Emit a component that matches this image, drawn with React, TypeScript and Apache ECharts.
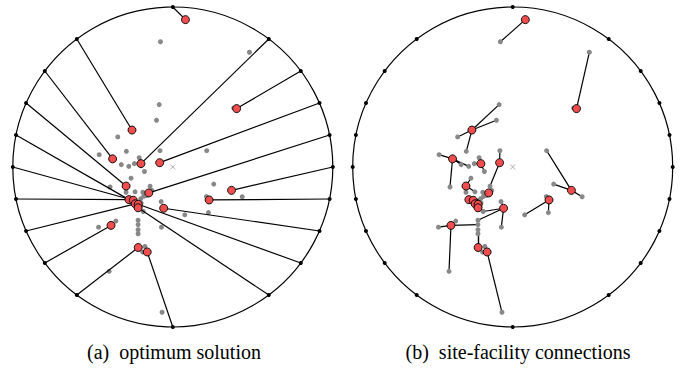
import React, { useEffect, useRef } from "react";
import * as echarts from "echarts";

// Boundary (customer) points on the unit circle
const boundaryX = [0, 0.6, 0.8, 0.917, 0.98, 1, 0.98, 0.917, 0.8, 0.6, 0, -0.6, -0.8, -0.917, -0.98, -1, -0.98, -0.917, -0.8, -0.6];
const boundaryY = [1, 0.8, 0.6, 0.4, 0.2, 0, -0.2, -0.4, -0.6, -0.8, -1, -0.8, -0.6, -0.4, -0.2, 0, 0.2, 0.4, 0.6, 0.8];
// facility index serving each boundary point (panel a)
const boundaryFac = [0, 4, 1, 5, 7, 8, 9, 10, 17, 18, 13, 12, 11, 16, 14, 15, 14, 6, 3, 2];

// Open facilities (red)
const facX = [0.079, 0.399, -0.255, -0.376, -0.199, -0.082, -0.292, -0.15, 0.367, 0.227, -0.057, -0.386, -0.216, -0.16, -0.274, -0.247, -0.235, -0.216, -0.217];
const facY = [0.921, 0.365, 0.231, 0.051, 0.021, 0.027, -0.119, -0.162, -0.146, -0.206, -0.258, -0.365, -0.503, -0.531, -0.204, -0.208, -0.23, -0.233, -0.255];

// Sites (gray)
const siteX = [-0.077, 0.479, 0.381, -0.085, -0.102, -0.344, -0.29, -0.46, -0.392, -0.322, -0.275, -0.21, -0.24, -0.177, -0.08, -0.142, -0.261, -0.292, -0.236, -0.187, -0.131, 0.212, 0.256, 0.434, 0.075, 0.223, 0.21, -0.073, -0.071, -0.185, -0.217, -0.464, -0.356, -0.217, -0.398, -0.217, -0.217, -0.174, -0.188, -0.067, -0.2, -0.182, -0.198, -0.204, -0.165];
const siteY = [0.783, 0.717, 0.369, 0.39, 0.292, 0.188, 0.098, 0.077, -0.125, 0.015, 0.004, 0.058, 0.021, -0.028, 0.102, -0.12, -0.07, -0.158, -0.155, -0.158, -0.146, 0.102, -0.107, -0.186, -0.299, -0.285, -0.185, -0.216, -0.376, -0.278, -0.333, -0.376, -0.338, -0.36, -0.652, -0.392, -0.417, -0.497, -0.532, -0.908, -0.198, -0.183, -0.225, -0.25, -0.178];
// facility each site is connected to (panel b)
const siteFac = [0, 1, 1, 2, 2, 2, 2, 3, 3, 3, 3, 4, 4, 4, 5, 5, 6, 6, 6, 7, 7, 8, 8, 8, 9, 9, 9, 10, 10, 10, 10, 11, 11, 11, 11, 12, 12, 13, 13, 13, 15, 17, 17, 18, 16];

const captions = ["(a)\u00a0 optimum solution", "(b)\u00a0 site-facility connections"];
const centerPt = [[0, 0]];

export default function App() {
  const ref = useRef<HTMLDivElement>(null);
  useEffect(() => {
    if (!ref.current) return;
    const chart = echarts.init(ref.current, null, { renderer: "svg" });
    const boundary = boundaryX.map((x, i) => [x, boundaryY[i]]);
    const facs = facX.map((x, i) => [x, facY[i]]);
    const sites = siteX.map((x, i) => [x, siteY[i]]);
    const linesA = boundary.map((b, i) => ({ coords: [b, facs[boundaryFac[i]]] }));
    const linesB = sites.map((s, i) => ({ coords: [s, facs[siteFac[i]]] }));

    const series: any[] = [];
    [0, 1].forEach((g) => {
      series.push({
        type: "custom",
        xAxisIndex: g,
        yAxisIndex: g,
        silent: true,
        z: 1,
        data: centerPt,
        renderItem: (_p: any, api: any) => {
          const c = api.coord([0, 0]);
          const e = api.coord([1, 0]);
          return {
            type: "circle",
            shape: { cx: c[0], cy: c[1], r: e[0] - c[0] },
            style: { fill: "none", stroke: "#000", lineWidth: 1.2 },
          };
        },
      });
      series.push({
        type: "lines",
        coordinateSystem: "cartesian2d",
        xAxisIndex: g,
        yAxisIndex: g,
        silent: true,
        z: g === 0 ? 3 : 2,
        data: g === 0 ? linesA : linesB,
        lineStyle: { color: "#000", width: 1.2, opacity: 1 },
      });
      series.push({
        type: "scatter",
        xAxisIndex: g,
        yAxisIndex: g,
        silent: true,
        z: 4,
        data: boundary,
        symbolSize: 4,
        itemStyle: { color: "#000", opacity: 1 },
      });
      series.push({
        type: "scatter",
        xAxisIndex: g,
        yAxisIndex: g,
        silent: true,
        z: g === 0 ? 2 : 3,
        data: sites,
        symbolSize: 5,
        itemStyle: { color: "#888888", opacity: 1 },
      });
      series.push({
        type: "scatter",
        xAxisIndex: g,
        yAxisIndex: g,
        silent: true,
        z: 5,
        data: facs,
        symbolSize: 8,
        itemStyle: { color: "#f04e4e", borderColor: "#000", borderWidth: 0.9, opacity: 1 },
      });
      series.push({
        type: "scatter",
        xAxisIndex: g,
        yAxisIndex: g,
        silent: true,
        z: 5,
        data: centerPt,
        symbol: "path://M0,0L10,10M10,0L0,10",
        symbolSize: 5,
        itemStyle: { color: "#9a9a9a", borderColor: "#9a9a9a", borderWidth: 0.8, opacity: 1 },
      });
    });

    chart.setOption({
      animation: false,
      backgroundColor: "#fff",
      grid: [
        { left: 12.8, top: 7, width: 320, height: 320 },
        { left: 352.7, top: 7, width: 320, height: 320 },
      ],
      xAxis: [
        { type: "value", gridIndex: 0, min: -1, max: 1, show: false },
        { type: "value", gridIndex: 1, min: -1, max: 1, show: false },
      ],
      yAxis: [
        { type: "value", gridIndex: 0, min: -1, max: 1, show: false },
        { type: "value", gridIndex: 1, min: -1, max: 1, show: false },
      ],
      graphic: [
        {
          type: "text",
          x: 174,
          y: 352,
          style: { text: captions[0], align: "center", verticalAlign: "middle", fontFamily: "Liberation Serif", fontSize: 20, fill: "#000" },
        },
        {
          type: "text",
          x: 518,
          y: 352,
          style: { text: captions[1], align: "center", verticalAlign: "middle", fontFamily: "Liberation Serif", fontSize: 20, fill: "#000" },
        },
      ],
      series,
    });
    return () => chart.dispose();
  }, []);
  return <div ref={ref} style={{ position: "fixed", left: 0, top: 0, width: 686, height: 369 }} />;
}
